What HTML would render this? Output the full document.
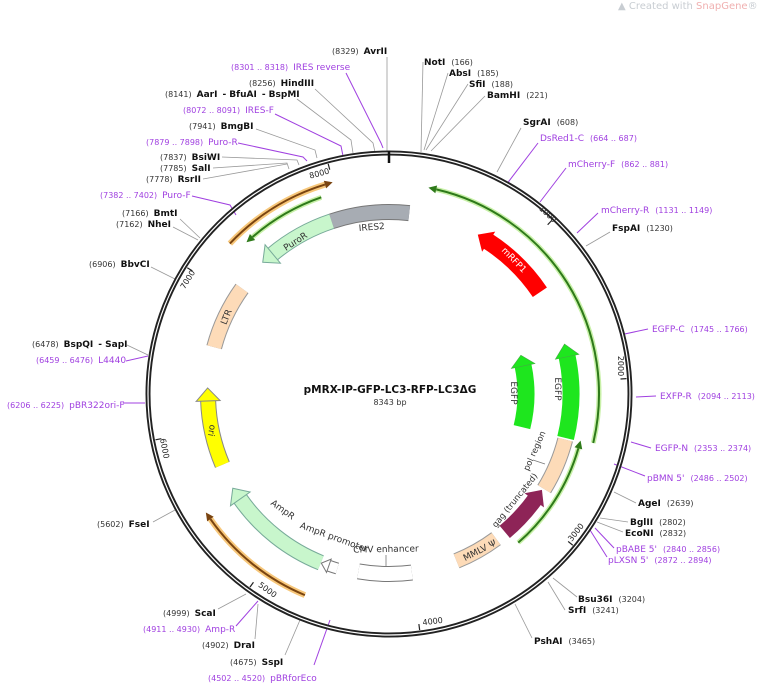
<!DOCTYPE html>
<html><head><meta charset="utf-8"><style>
html,body{margin:0;padding:0;background:#fff;}
svg{display:block;font-family:"DejaVu Sans","Liberation Sans",sans-serif;}
.n{font-size:8px;fill:#333;}
.b{font-size:9px;font-weight:bold;fill:#111;}
.p{font-size:9px;fill:#a040e0;}
.pn{font-size:8px;fill:#a040e0;}
.l{stroke:#999;stroke-width:0.8;fill:none;}
.lp{stroke:#a040e0;stroke-width:1;fill:none;}
.t{font-size:8px;fill:#222;}
.f{font-size:9px;fill:#333;}
</style></head><body>
<svg width="760" height="684" viewBox="0 0 760 684" xmlns="http://www.w3.org/2000/svg">
<text x="618" y="9" style="font-size:10px;fill:#c8cdd2">▲ Created with <tspan fill="#f0b0b0">SnapGene</tspan>®</text>

<g>
<polyline class="l" points="387,57 387,152"/>
<polyline class="lp" points="346,73 381,143 383,148"/>
<polyline class="l" points="315,89 373,143 375,152"/>
<polyline class="l" points="297,99 351,140 353,153"/>
<polyline class="lp" points="275,114 341,146 343,156"/>
<polyline class="l" points="256,129 315,150 317,158"/>
<polyline class="lp" points="238,143 303,157 307,161"/>
<polyline class="l" points="222,157 297,160 299,165"/>
<polyline class="l" points="213,168 287,163 289,169"/>
<polyline class="l" points="203,179 287,164"/>
<polyline class="lp" points="192,196 230,205 236,215"/>
<polyline class="l" points="180,219 200,238"/>
<polyline class="l" points="173,227 198,240"/>
<polyline class="l" points="151,267 175,279"/>
<polyline class="l" points="127,345 148,355"/>
<polyline class="lp" points="126,361 148,356"/>
<polyline class="lp" points="123,403 145,403"/>
<polyline class="l" points="153,522 175,510"/>
<polyline class="l" points="218,609 246,594"/>
<polyline class="lp" points="236,626 258,601"/>
<polyline class="l" points="255,639 258,604"/>
<polyline class="l" points="285,655 300,620"/>
<polyline class="lp" points="314,665 330,620"/>
<polyline class="l" points="423,62 421,152"/>
<polyline class="l" points="448,73 424,150"/>
<polyline class="l" points="468,84 426,150"/>
<polyline class="l" points="485,96 431,151"/>
<polyline class="l" points="521,128 497,172"/>
<polyline class="lp" points="538,143 506,185"/>
<polyline class="lp" points="566,168 540,202"/>
<polyline class="lp" points="598,213 577,233"/>
<polyline class="l" points="610,232 586,246"/>
<polyline class="lp" points="648,329 620,335"/>
<polyline class="lp" points="656,396 636,397"/>
<polyline class="lp" points="651,448 631,442"/>
<polyline class="lp" points="645,476 614,464"/>
<polyline class="l" points="636,503 614,492"/>
<polyline class="l" points="628,522 600,518"/>
<polyline class="l" points="623,532 597,522"/>
<polyline class="lp" points="614,548 595,528"/>
<polyline class="lp" points="607,557 590,530"/>
<polyline class="l" points="577,597 553,578"/>
<polyline class="l" points="565,610 548,582"/>
<polyline class="l" points="532,638 515,604"/>
</g>

<circle cx="389" cy="394" r="241" fill="none" stroke="#222" stroke-width="5"/>
<circle cx="389" cy="394" r="241" fill="none" stroke="#fff" stroke-width="1.2"/>
<line x1="389" y1="151" x2="389" y2="163" stroke="#111" stroke-width="2.5"/>

<g stroke="#222" stroke-width="1.2">
<line x1="389" y1="156" x2="389" y2="162" transform="rotate(43.15 389 394)"/>
<line x1="389" y1="156" x2="389" y2="162" transform="rotate(86.3 389 394)"/>
<line x1="389" y1="156" x2="389" y2="162" transform="rotate(129.45 389 394)"/>
<line x1="389" y1="156" x2="389" y2="162" transform="rotate(172.6 389 394)"/>
<line x1="389" y1="156" x2="389" y2="162" transform="rotate(215.75 389 394)"/>
<line x1="389" y1="156" x2="389" y2="162" transform="rotate(258.9 389 394)"/>
<line x1="389" y1="156" x2="389" y2="162" transform="rotate(302.05 389 394)"/>
<line x1="389" y1="156" x2="389" y2="162" transform="rotate(345.2 389 394)"/>
</g>
<g class="t" text-anchor="middle">
<text transform="translate(546,216) rotate(43)">1000</text>
<text transform="translate(618,366) rotate(90)">2000</text>
<text transform="translate(578,534) rotate(-52)">3000</text>
<text transform="translate(433,624) rotate(-7)">4000</text>
<text transform="translate(266,592) rotate(36)">5000</text>
<text transform="translate(162,449) rotate(79)">6000</text>
<text transform="translate(190,281) rotate(-58)">7000</text>
<text transform="translate(320,176) rotate(-15)">8000</text>
</g>

<g fill="none">
<circle cx="389" cy="394" r="219" pathLength="360" stroke-dasharray="29.6 400" transform="rotate(223.4 389 394)" stroke="#f7c77a" stroke-width="6"/>
<circle cx="389" cy="394" r="219" pathLength="360" stroke-dasharray="29.6 400" transform="rotate(223.4 389 394)" stroke="#7a4410" stroke-width="2"/>
<circle cx="389" cy="394" r="218" pathLength="360" stroke-dasharray="32.3 400" transform="rotate(112.7 389 394)" stroke="#f7c77a" stroke-width="6"/>
<circle cx="389" cy="394" r="218" pathLength="360" stroke-dasharray="32.3 400" transform="rotate(112.7 389 394)" stroke="#7a4410" stroke-width="2"/>
<circle cx="389" cy="394" r="208" pathLength="360" stroke-dasharray="22 400" transform="rotate(229 389 394)" stroke="#c8f0a8" stroke-width="5"/>
<circle cx="389" cy="394" r="208" pathLength="360" stroke-dasharray="22 400" transform="rotate(229 389 394)" stroke="#2e7a1a" stroke-width="2"/>
<circle cx="389" cy="394" r="210" pathLength="360" stroke-dasharray="90.5 400" transform="rotate(-77 389 394)" stroke="#c8f0a8" stroke-width="5"/>
<circle cx="389" cy="394" r="210" pathLength="360" stroke-dasharray="90.5 400" transform="rotate(-77 389 394)" stroke="#2e7a1a" stroke-width="2"/>
<circle cx="389" cy="394" r="197" pathLength="360" stroke-dasharray="33 400" transform="rotate(16 389 394)" stroke="#c8f0a8" stroke-width="5"/>
<circle cx="389" cy="394" r="197" pathLength="360" stroke-dasharray="33 400" transform="rotate(16 389 394)" stroke="#2e7a1a" stroke-width="2"/>
</g>
<g>
<polygon points="389,171 389,179 397,175" fill="#7a4410" transform="rotate(343 389 394)"/>
<polygon points="389,172 389,180 397,176" fill="#7a4410" transform="rotate(235 389 394)"/>
<polygon points="389,182 389,190 381,186" fill="#2e7a1a" transform="rotate(319 389 394)"/>
<polygon points="389,180 389,188 381,184" fill="#2e7a1a" transform="rotate(13 389 394)"/>
<polygon points="389,193 389,201 381,197" fill="#2e7a1a" transform="rotate(106 389 394)"/>
</g>

<g fill="none">
<circle cx="389" cy="394" r="182" pathLength="360" stroke-dasharray="24.8 400" transform="rotate(251.6 389 394)" stroke="#777" stroke-width="16"/>
<circle cx="389" cy="394" r="182" pathLength="360" stroke-dasharray="24.8 400" transform="rotate(251.6 389 394)" stroke="#a7acb3" stroke-width="14"/>
<circle cx="389" cy="394" r="182" pathLength="360" stroke-dasharray="21.6 400" transform="rotate(230 389 394)" stroke="#7a9" stroke-width="16"/>
<circle cx="389" cy="394" r="182" pathLength="360" stroke-dasharray="21.6 400" transform="rotate(230 389 394)" stroke="#c8f6cc" stroke-width="14"/>
<circle cx="389" cy="394" r="182" pathLength="360" stroke-dasharray="23 400" transform="rotate(-57 389 394)" stroke="#ff0000" stroke-width="17"/>
<circle cx="389" cy="394" r="182" pathLength="360" stroke-dasharray="26 400" transform="rotate(-12 389 394)" stroke="#1ee61e" stroke-width="17"/>
<circle cx="389" cy="394" r="137" pathLength="360" stroke-dasharray="26 400" transform="rotate(-12 389 394)" stroke="#1ee61e" stroke-width="17"/>
<circle cx="389" cy="394" r="182" pathLength="360" stroke-dasharray="17 400" transform="rotate(14.5 389 394)" stroke="#999" stroke-width="16"/>
<circle cx="389" cy="394" r="182" pathLength="360" stroke-dasharray="17 400" transform="rotate(14.5 389 394)" stroke="#fddbb8" stroke-width="14"/>
<circle cx="389" cy="394" r="180" pathLength="360" stroke-dasharray="14 400" transform="rotate(36 389 394)" stroke="#8e2457" stroke-width="16"/>
<circle cx="389" cy="394" r="180" pathLength="360" stroke-dasharray="14.5 400" transform="rotate(53.5 389 394)" stroke="#999" stroke-width="16"/>
<circle cx="389" cy="394" r="180" pathLength="360" stroke-dasharray="14.5 400" transform="rotate(53.5 389 394)" stroke="#fddbb8" stroke-width="14"/>
<circle cx="389" cy="394" r="180" pathLength="360" stroke-dasharray="17.1 400" transform="rotate(82.7 389 394)" stroke="#777" stroke-width="16"/>
<circle cx="389" cy="394" r="180" pathLength="360" stroke-dasharray="17.1 400" transform="rotate(82.7 389 394)" stroke="#fff" stroke-width="14"/>
<circle cx="389" cy="394" r="182" pathLength="360" stroke-dasharray="3 400" transform="rotate(106.5 389 394)" stroke="#777" stroke-width="12"/>
<circle cx="389" cy="394" r="182" pathLength="360" stroke-dasharray="3 400" transform="rotate(106.5 389 394)" stroke="#fff" stroke-width="10"/>
<circle cx="389" cy="394" r="182" pathLength="360" stroke-dasharray="33 400" transform="rotate(112 389 394)" stroke="#7a9" stroke-width="16"/>
<circle cx="389" cy="394" r="182" pathLength="360" stroke-dasharray="33 400" transform="rotate(112 389 394)" stroke="#c8f6cc" stroke-width="14"/>
<circle cx="389" cy="394" r="181" pathLength="360" stroke-dasharray="21 400" transform="rotate(157 389 394)" stroke="#888" stroke-width="16"/>
<circle cx="389" cy="394" r="181" pathLength="360" stroke-dasharray="21 400" transform="rotate(157 389 394)" stroke="#ffff00" stroke-width="14"/>
<circle cx="389" cy="394" r="181" pathLength="360" stroke-dasharray="20.7 400" transform="rotate(195 389 394)" stroke="#999" stroke-width="16"/>
<circle cx="389" cy="394" r="181" pathLength="360" stroke-dasharray="20.7 400" transform="rotate(195 389 394)" stroke="#fddbb8" stroke-width="14"/>
</g>
<g>
<polygon points="389,200 389,224 376,212" fill="#c8f6cc" stroke="#7a9" stroke-width="1" transform="rotate(320.3 389 394)"/>
<polygon points="389,200 389,224 376,212" fill="#ff0000" transform="rotate(33.2 389 394)"/>
<polygon points="389,200 389,224 376,212" fill="#1ee61e" stroke="#4a4" stroke-width="0.6" transform="rotate(78.2 389 394)"/>
<polygon points="389,245 389,269 378,257" fill="#1ee61e" stroke="#4a4" stroke-width="0.6" transform="rotate(78.2 389 394)"/>
<polygon points="389,202 389,226 376,214" fill="#8e2457" transform="rotate(126.2 389 394)"/>
<polygon points="389,205 389,219 397,212" fill="#fff" stroke="#777" stroke-width="1" transform="rotate(199.3 389 394)"/>
<polygon points="389,200 389,224 402,212" fill="#c8f6cc" stroke="#7a9" stroke-width="1" transform="rotate(234.8 389 394)"/>
<polygon points="389,201 389,225 402,213" fill="#ffff00" stroke="#888" stroke-width="1" transform="rotate(267.8 389 394)"/>
</g>

<g class="f" text-anchor="middle">
<text transform="translate(372,230) rotate(-5)">IRES2</text>
<text transform="translate(297,244) rotate(-33)">PuroR</text>
<text transform="translate(512,262) rotate(46)" style="fill:#fff">mRFP1</text>
<text transform="translate(555,389) rotate(90)">EGFP</text>
<text transform="translate(511,393) rotate(90)">EGFP</text>
<text transform="translate(537,452) rotate(-66)" style="font-size:8.5px">pol region</text>
<text transform="translate(517,502) rotate(-51)" style="font-size:8.5px">gag (truncated)</text>
<text transform="translate(481,553) rotate(-27)">MMLV Ψ</text>
<text transform="translate(386,552) rotate(-1)">CMV enhancer</text>
<text transform="translate(333,540) rotate(20)">AmpR promoter</text>
<text transform="translate(281,512) rotate(36)">AmpR</text>
<text transform="translate(209,430) rotate(100)">ori</text>
<text transform="translate(229,318) rotate(-68)">LTR</text>
</g>
<line x1="386" y1="555" x2="386" y2="566" stroke="#777" stroke-width="0.8"/>
<line x1="533" y1="460" x2="545" y2="464" stroke="#777" stroke-width="0.8"/>

<text x="390" y="393" text-anchor="middle" style="font-size:10.5px;font-weight:bold;fill:#111">pMRX-IP-GFP-LC3-RFP-LC3ΔG</text>
<text x="390" y="405" text-anchor="middle" style="font-size:8px;fill:#333">8343 bp</text>

<g>
<text x="332" y="54"><tspan class="n">(8329)</tspan><tspan class="b" dx="5">AvrII</tspan></text>
<text x="231" y="70"><tspan class="pn">(8301 .. 8318)</tspan><tspan class="p" dx="5">IRES reverse</tspan></text>
<text x="249" y="86"><tspan class="n">(8256)</tspan><tspan class="b" dx="5">HindIII</tspan></text>
<text x="165" y="97"><tspan class="n">(8141)</tspan><tspan class="b" dx="5">AarI</tspan><tspan class="b" dx="5">- BfuAI</tspan><tspan class="b" dx="5">- BspMI</tspan></text>
<text x="183" y="113"><tspan class="pn">(8072 .. 8091)</tspan><tspan class="p" dx="5">IRES-F</tspan></text>
<text x="189" y="129"><tspan class="n">(7941)</tspan><tspan class="b" dx="5">BmgBI</tspan></text>
<text x="146" y="145"><tspan class="pn">(7879 .. 7898)</tspan><tspan class="p" dx="5">Puro-R</tspan></text>
<text x="160" y="160"><tspan class="n">(7837)</tspan><tspan class="b" dx="5">BsiWI</tspan></text>
<text x="160" y="171"><tspan class="n">(7785)</tspan><tspan class="b" dx="5">SalI</tspan></text>
<text x="146" y="182"><tspan class="n">(7778)</tspan><tspan class="b" dx="5">RsrII</tspan></text>
<text x="100" y="198"><tspan class="pn">(7382 .. 7402)</tspan><tspan class="p" dx="5">Puro-F</tspan></text>
<text x="122" y="216"><tspan class="n">(7166)</tspan><tspan class="b" dx="5">BmtI</tspan></text>
<text x="116" y="227"><tspan class="n">(7162)</tspan><tspan class="b" dx="5">NheI</tspan></text>
<text x="89" y="267"><tspan class="n">(6906)</tspan><tspan class="b" dx="5">BbvCI</tspan></text>
<text x="32" y="347"><tspan class="n">(6478)</tspan><tspan class="b" dx="5">BspQI</tspan><tspan class="b" dx="5">- SapI</tspan></text>
<text x="36" y="363"><tspan class="pn">(6459 .. 6476)</tspan><tspan class="p" dx="5">L4440</tspan></text>
<text x="7" y="408"><tspan class="pn">(6206 .. 6225)</tspan><tspan class="p" dx="5">pBR322ori-F</tspan></text>
<text x="97" y="527"><tspan class="n">(5602)</tspan><tspan class="b" dx="5">FseI</tspan></text>
<text x="163" y="616"><tspan class="n">(4999)</tspan><tspan class="b" dx="5">ScaI</tspan></text>
<text x="143" y="632"><tspan class="pn">(4911 .. 4930)</tspan><tspan class="p" dx="5">Amp-R</tspan></text>
<text x="202" y="648"><tspan class="n">(4902)</tspan><tspan class="b" dx="5">DraI</tspan></text>
<text x="230" y="665"><tspan class="n">(4675)</tspan><tspan class="b" dx="5">SspI</tspan></text>
<text x="208" y="681"><tspan class="pn">(4502 .. 4520)</tspan><tspan class="p" dx="5">pBRforEco</tspan></text>
</g>
<g>
<text x="424" y="65"><tspan class="b">NotI</tspan><tspan class="n" dx="6">(166)</tspan></text>
<text x="449" y="76"><tspan class="b">AbsI</tspan><tspan class="n" dx="6">(185)</tspan></text>
<text x="469" y="87"><tspan class="b">SfiI</tspan><tspan class="n" dx="6">(188)</tspan></text>
<text x="487" y="98"><tspan class="b">BamHI</tspan><tspan class="n" dx="6">(221)</tspan></text>
<text x="523" y="125"><tspan class="b">SgrAI</tspan><tspan class="n" dx="6">(608)</tspan></text>
<text x="540" y="141"><tspan class="p">DsRed1-C</tspan><tspan class="pn" dx="6">(664 .. 687)</tspan></text>
<text x="568" y="167"><tspan class="p">mCherry-F</tspan><tspan class="pn" dx="6">(862 .. 881)</tspan></text>
<text x="601" y="213"><tspan class="p">mCherry-R</tspan><tspan class="pn" dx="6">(1131 .. 1149)</tspan></text>
<text x="612" y="231"><tspan class="b">FspAI</tspan><tspan class="n" dx="6">(1230)</tspan></text>
<text x="652" y="332"><tspan class="p">EGFP-C</tspan><tspan class="pn" dx="6">(1745 .. 1766)</tspan></text>
<text x="660" y="399"><tspan class="p">EXFP-R</tspan><tspan class="pn" dx="6">(2094 .. 2113)</tspan></text>
<text x="655" y="451"><tspan class="p">EGFP-N</tspan><tspan class="pn" dx="6">(2353 .. 2374)</tspan></text>
<text x="647" y="481"><tspan class="p">pBMN 5'</tspan><tspan class="pn" dx="6">(2486 .. 2502)</tspan></text>
<text x="638" y="506"><tspan class="b">AgeI</tspan><tspan class="n" dx="6">(2639)</tspan></text>
<text x="630" y="525"><tspan class="b">BglII</tspan><tspan class="n" dx="6">(2802)</tspan></text>
<text x="625" y="536"><tspan class="b">EcoNI</tspan><tspan class="n" dx="6">(2832)</tspan></text>
<text x="616" y="552"><tspan class="p">pBABE 5'</tspan><tspan class="pn" dx="6">(2840 .. 2856)</tspan></text>
<text x="608" y="563"><tspan class="p">pLXSN 5'</tspan><tspan class="pn" dx="6">(2872 .. 2894)</tspan></text>
<text x="578" y="602"><tspan class="b">Bsu36I</tspan><tspan class="n" dx="6">(3204)</tspan></text>
<text x="568" y="613"><tspan class="b">SrfI</tspan><tspan class="n" dx="6">(3241)</tspan></text>
<text x="534" y="644"><tspan class="b">PshAI</tspan><tspan class="n" dx="6">(3465)</tspan></text>
</g>
</svg>
</body></html>
